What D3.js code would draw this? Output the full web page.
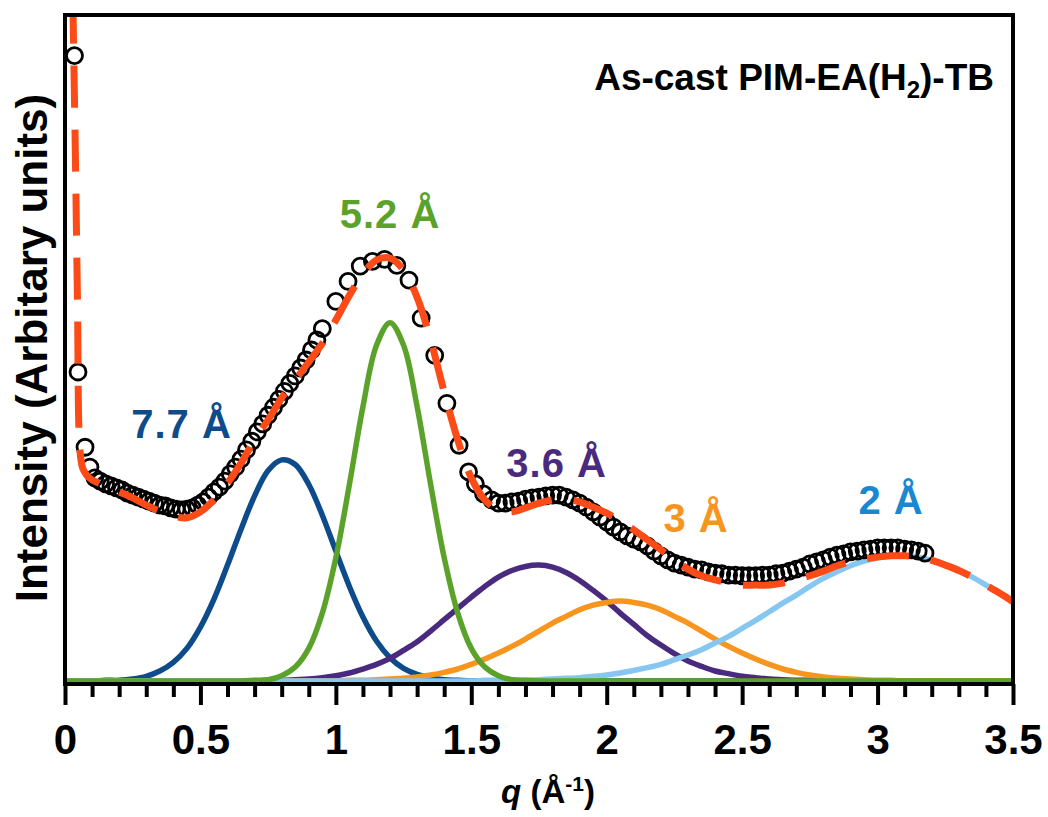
<!DOCTYPE html>
<html>
<head>
<meta charset="utf-8">
<script src="https://cdn.jsdelivr.net/npm/d3@7"></script>
<style>
  body { margin: 0; background: #fff; }
  svg { display: block; font-family: "Liberation Sans", Arial, sans-serif; font-weight: bold; }
</style>
</head>
<body>
<div id="chart"></div>
<script>
var width = 1048;
var height = 817;
var margin = {top: 15, left: 65, right: 35, bottom: 133};

// q grid used by the fitted peak components (0 .. 3.5, every 0.05)
var peakQ = [0,0.05,0.1,0.15,0.2,0.25,0.3,0.35,0.4,0.45,0.5,0.55,0.6,0.65,0.7,0.75,0.8,0.85,0.9,0.95,
  1,1.05,1.1,1.15,1.2,1.25,1.3,1.35,1.4,1.45,1.5,1.55,1.6,1.65,1.7,1.75,1.8,1.85,1.9,1.95,
  2,2.05,2.1,2.15,2.2,2.25,2.3,2.35,2.4,2.45,2.5,2.55,2.6,2.65,2.7,2.75,2.8,2.85,2.9,2.95,
  3,3.05,3.1,3.15,3.2,3.25,3.3,3.35,3.4,3.45,3.5];

var peak77 = [0,0,0,0.1,0.1,0.3,0.7,1.5,2.8,4.9,8.1,12.3,17.4,22.8,27.8,31.6,33.2,32.5,29.5,24.9,
  19.5,14.2,9.6,6.0,3.5,1.9,1.0,0.5,0.2,0.1,0,0,0,0,0,0,0,0,0,0,
  0,0,0,0,0,0,0,0,0,0,0,0,0,0,0,0,0,0,0,0,0,0,0,0,0,0,0,0,0,0,0];
var peak52 = [0,0,0,0,0,0,0,0,0,0,0,0,0,0,0.1,0.2,0.8,2.1,4.9,10.2,
  18.5,29.5,41.2,50.4,53.8,50.4,41.2,29.5,18.5,10.2,4.9,2.1,0.8,0.2,0.1,0,0,0,0,0,
  0,0,0,0,0,0,0,0,0,0,0,0,0,0,0,0,0,0,0,0,0,0,0,0,0,0,0,0,0,0,0];
var peak36 = [0,0,0,0,0,0,0,0,0,0,0,0,0,0,0,0.1,0.1,0.2,0.3,0.5,
  0.8,1.2,1.8,2.5,3.4,4.6,5.9,7.5,9.2,10.9,12.6,14.2,15.6,16.6,17.2,17.4,17.1,16.3,15.1,13.6,
  12.0,10.2,8.5,6.8,5.4,4.1,3.0,2.2,1.5,1.1,0.7,0.5,0.3,0.2,0.1,0.1,0,0,0,0,
  0,0,0,0,0,0,0,0,0,0,0];
var peak3 = [0,0,0,0,0,0,0,0,0,0,0,0,0,0,0,0,0,0,0,0,
  0,0.1,0.1,0.2,0.3,0.4,0.6,0.9,1.3,1.8,2.5,3.3,4.2,5.2,6.3,7.5,8.7,9.7,10.7,11.4,
  11.8,12.0,11.8,11.4,10.7,9.7,8.7,7.5,6.3,5.2,4.2,3.3,2.5,1.8,1.3,0.9,0.6,0.4,0.3,0.2,
  0.1,0.1,0,0,0,0,0,0,0,0,0];
var peak2 = [0,0,0,0,0,0,0,0,0,0,0,0,0,0,0,0,0,0,0,0,
  0,0,0,0,0,0,0,0,0,0,0,0.1,0.1,0.1,0.1,0.2,0.3,0.4,0.5,0.7,
  0.9,1.2,1.6,2.0,2.5,3.2,3.9,4.7,5.7,6.7,7.9,9.1,10.4,11.7,12.9,14.2,15.4,16.4,17.3,18.0,
  18.5,18.8,18.8,18.6,18.1,17.4,16.6,15.6,14.4,13.2,11.9];

// overall fit (dashed line)
var fitQ = [0.029,0.038,0.046,0.055,0.065,0.08,0.1,0.15,0.2,0.25,0.3,0.35,0.4,0.45,0.5,0.55,0.6,0.65,0.7,0.75,
  0.8,0.85,0.9,0.95,1,1.05,1.1,1.15,1.2,1.25,1.3,1.35,1.4,1.45,1.5,1.55,1.6,1.65,1.7,1.75,
  1.8,1.85,1.9,1.95,2,2.05,2.1,2.15,2.2,2.25,2.3,2.35,2.4,2.45,2.5,2.55,2.6,2.65,2.7,2.75,
  2.8,2.85,2.9,2.95,3,3.05,3.1,3.15,3.2,3.25,3.3,3.35,3.4,3.45,3.5];
var fitI = [102,79.7,57.2,34.7,32.0,30.9,30.2,29.3,28.4,27.5,26.4,25.5,24.8,24.5,25.4,27.2,29.7,32.7,36.2,39.2,
  42.5,45.2,47.9,50.7,54.2,57.9,61.1,63.2,63.5,61.7,57.6,51.2,43.4,36.2,30.5,27.2,25.7,25.4,26.0,26.7,
  27.2,27.3,26.9,26.1,25.2,24.0,22.7,21.2,19.7,18.2,16.8,15.8,15.2,14.7,14.4,14.4,14.4,14.7,15.2,15.8,
  16.5,17.3,17.9,18.3,18.6,18.8,18.8,18.6,18.1,17.4,16.6,15.6,14.4,13.2,11.9];

// measured data (open circles)
var dataQ = [0.035,0.048,0.074,0.092,
  0.11,0.13,0.15,0.17,0.19,0.21,0.23,0.25,0.27,0.29,0.31,0.33,0.35,0.37,0.39,0.41,0.43,0.45,0.47,0.49,
  0.51,0.53,0.55,0.57,0.59,0.61,0.63,0.65,0.67,0.69,0.71,0.73,0.75,0.77,0.79,0.81,0.83,0.85,0.87,0.89,
  0.91,0.93,0.95,1.0,1.045,1.09,1.135,1.18,1.225,1.27,1.315,1.365,1.41,1.455,1.49,1.515,1.545,
  1.575,1.6,1.625,1.65,1.675,1.7,1.725,1.75,1.775,1.8,1.825,1.85,1.875,1.9,1.925,1.95,1.975,
  2.0,2.025,2.05,2.075,2.1,2.125,2.15,2.175,2.2,2.225,2.25,2.275,2.3,2.325,2.35,2.375,2.4,2.425,2.45,2.475,
  2.5,2.525,2.55,2.575,2.6,2.625,2.65,2.675,2.7,2.725,2.75,2.775,2.8,2.825,2.85,2.875,2.9,2.925,2.95,2.975,
  3.0,3.025,3.05,3.075,3.1,3.125,3.15,3.175];
var dataI = [93.9,46.4,35.1,32.1,
  30.5,30.0,29.6,29.3,29.0,28.7,28.2,27.9,27.6,27.3,27.0,26.7,26.4,26.3,26.0,25.8,25.7,25.8,26.0,26.4,
  26.9,27.6,28.4,29.1,30.0,31.1,32.1,33.3,34.7,36.0,37.4,38.6,39.9,41.1,42.3,43.5,44.7,45.8,47.0,48.2,
  49.7,51.2,52.9,57.0,60.0,62.3,63.0,63.3,62.4,60.2,54.5,48.9,41.7,35.4,31.4,29.6,28.1,
  27.2,26.7,26.7,26.9,27.0,27.3,27.5,27.6,27.8,27.9,27.9,27.6,27.2,26.7,26.1,25.4,24.6,
  23.9,23.1,22.4,21.8,21.3,20.9,20.3,19.5,18.8,18.2,17.7,17.4,17.1,16.8,16.7,16.4,16.2,16.1,15.9,15.9,
  15.8,15.8,15.8,15.9,15.9,16.1,16.2,16.5,16.8,17.1,17.6,17.9,18.2,18.6,18.9,19.1,19.4,19.5,19.7,19.8,
  20.0,20.0,20.0,20.0,19.8,19.7,19.5,19.2];

var majorTicks = [0,0.5,1,1.5,2,2.5,3,3.5];
var tickLabels = ["0","0.5","1","1.5","2","2.5","3","3.5"];
var minorTicks = [0.1,0.2,0.3,0.4,0.6,0.7,0.8,0.9,1.1,1.2,1.3,1.4,1.6,1.7,1.8,1.9,
  2.1,2.2,2.3,2.4,2.6,2.7,2.8,2.9,3.1,3.2,3.3,3.4];

var peaks = [
  {name: "7.7 Å", values: peak77, color: "#0d4b8a", label: [0.43, 438]},
  {name: "3.6 Å", values: peak36, color: "#4a2a7e", label: [1.815, 477]},
  {name: "3 Å", values: peak3, color: "#f7951f", label: [2.33, 532]},
  {name: "2 Å", values: peak2, color: "#86c7f2", textColor: "#1a87d2", label: [3.05, 514]},
  {name: "5.2 Å", values: peak52, color: "#5ba22b", label: [1.2, 228]}
];

var svg = d3.select("#chart")
  .append("svg")
  .attr("width", width)
  .attr("height", height);

var plotBottom = 684;

var xScale = d3.scaleLinear()
  .domain([0, 3.5])
  .range([margin.left, width - margin.right]);

var yScale = d3.scaleLinear()
  .domain([0, 100])
  .range([681, 15]);

svg.append("clipPath")
  .attr("id", "plotclip")
  .append("rect")
    .attr("x", margin.left)
    .attr("y", margin.top)
    .attr("width", width - margin.right - margin.left)
    .attr("height", plotBottom - margin.top);

var plot = svg.append("g").attr("clip-path", "url(#plotclip)");

var line = d3.line()
  .x(function(d) { return xScale(d[0]); })
  .y(function(d) { return yScale(d[1]); })
  .curve(d3.curveCatmullRom);

// fitted components
peaks.forEach(function(p) {
  var pts = peakQ.map(function(q, i) { return [q, p.values[i]]; });
  plot.append("path")
    .datum(pts)
    .attr("d", line)
    .attr("fill", "none")
    .attr("stroke", p.color)
    .attr("stroke-width", 5.5);
});

// data circles
var pts = dataQ.map(function(q, i) { return [q, dataI[i]]; });
plot.selectAll("circle.obs")
  .data(pts)
  .enter()
  .append("circle")
    .attr("class", "obs")
    .attr("cx", function(d) { return xScale(d[0]); })
    .attr("cy", function(d) { return yScale(d[1]); })
    .attr("r", 8)
    .attr("fill", "none")
    .attr("stroke", "#000")
    .attr("stroke-width", 2.8);

// total fit, dashed
plot.append("path")
  .datum(fitQ.map(function(q, i) { return [q, fitI[i]]; }))
  .attr("d", line)
  .attr("fill", "none")
  .attr("stroke", "#fd4b17")
  .attr("stroke-width", 7)
  .attr("stroke-dasharray", "42,22");

// frame
svg.append("rect")
  .attr("x", margin.left)
  .attr("y", margin.top)
  .attr("width", width - margin.right - margin.left)
  .attr("height", plotBottom - margin.top)
  .attr("fill", "none")
  .attr("stroke", "#000")
  .attr("stroke-width", 4);

// x axis
var minorAxis = svg.append("g")
  .attr("transform", `translate(0,${plotBottom})`)
  .call(d3.axisBottom(xScale).tickValues(minorTicks).tickSize(13).tickSizeOuter(0).tickFormat(""));
minorAxis.select(".domain").remove();
minorAxis.selectAll("line").attr("stroke-width", 4);

var xAxis = svg.append("g")
  .attr("transform", `translate(0,${plotBottom})`)
  .call(d3.axisBottom(xScale).tickValues(majorTicks).tickSize(21).tickSizeOuter(0)
    .tickFormat(function(d, i) { return tickLabels[i]; }));
xAxis.select(".domain").remove();
xAxis.selectAll("line").attr("stroke-width", 4);
xAxis.selectAll("text")
  .attr("y", 70)
  .attr("dy", 0)
  .attr("fill", "#000")
  .style("font-family", "'Liberation Sans', Arial, sans-serif")
  .style("font-weight", "bold")
  .style("font-size", "42px");

// axis titles
var xLabel = svg.append("text")
  .attr("x", 548)
  .attr("y", 803)
  .attr("text-anchor", "middle")
  .style("font-size", "33px");
xLabel.append("tspan").style("font-style", "italic").text("q");
xLabel.append("tspan").text(" (Å");
xLabel.append("tspan").attr("dy", -12).style("font-size", "21px").text("-1");
xLabel.append("tspan").attr("dy", 12).text(")");

svg.append("text")
  .attr("transform", "translate(47,348) rotate(-90)")
  .attr("text-anchor", "middle")
  .style("font-size", "44px")
  .text("Intensity (Arbitary units)");

var title = svg.append("text")
  .attr("x", 994)
  .attr("y", 90)
  .attr("text-anchor", "end")
  .style("font-size", "37px");
title.append("tspan").text("As-cast PIM-EA(H");
title.append("tspan").attr("dy", 8).style("font-size", "24px").text("2");
title.append("tspan").attr("dy", -8).text(")-TB");

// peak labels
svg.selectAll("text.peak")
  .data(peaks)
  .enter()
  .append("text")
    .attr("class", "peak")
    .attr("x", function(d) { return xScale(d.label[0]); })
    .attr("y", function(d) { return d.label[1]; })
    .attr("text-anchor", "middle")
    .attr("fill", function(d) { return d.textColor || d.color; })
    .style("font-size", "40px")
    .style("letter-spacing", "1px")
    .text(function(d) { return d.name; });
</script>
</body>
</html>
